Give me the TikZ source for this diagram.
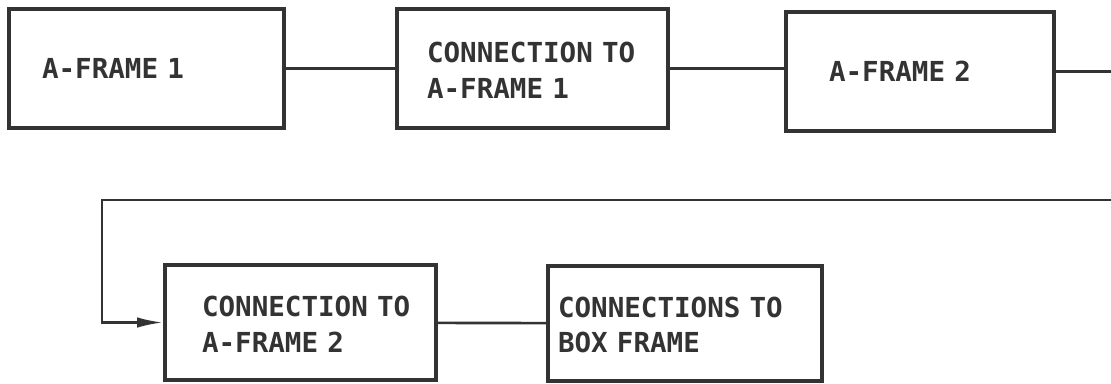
\documentclass[tikz,border=0pt]{standalone}
\usepackage{fontspec}
\usepackage{tikz}
\usetikzlibrary{arrows.meta, positioning}
\usepackage{xcolor}
\newfontfamily\monofont[WordSpace={1.1,0,0}]{DejaVu Sans Mono}
\definecolor{Ink}{HTML}{333333}

\begin{document}
\begin{tikzpicture}[
    unit/.style={draw=Ink, line width=2.6pt, align=left, inner ysep=0pt,
        font=\monofont\bfseries\fontsize{19.6}{25}\selectfont, text=Ink},
    link/.style={Ink, line width=1.9pt},
]
\useasboundingbox (0,0) rectangle (27.775,-9.575);

% =============================================
% TOP ROW
% =============================================
\node[unit, minimum height=2.975cm, inner xsep=0.825cm, text width=5.225cm]
    (af1) at (3.6625,-1.7125) {A-FRAME 1};
\node[unit, minimum height=2.975cm, inner xsep=0.75cm, text width=5.275cm]
    (con1) at (13.3125,-1.7125) {\rule{0pt}{0.6cm}CONNECTION~TO\\A-FRAME 1};
\node[unit, minimum height=2.975cm, inner xsep=1.075cm, text width=4.55cm]
    (af2) at (23.0,-1.7875) {A-FRAME 2};

\draw[link] (af1) -- (con1);
\draw[link] (con1.east) -- (con1.east -| af2.west);

% run-off to the right edge and back
\coordinate (outR) at (27.775,-1.825);
\coordinate (backR) at (27.775,-5.0);
\coordinate (turnL) at (2.55,-5.0);
\draw[link] (af2.east) -- (af2.east -| outR);

% =============================================
% BOTTOM ROW
% =============================================
\node[unit, minimum height=2.875cm, inner xsep=0.925cm, text width=4.925cm]
    (con2) at (7.5125,-8.0625) {\rule{0pt}{0.6cm}CONNECTION~TO\\A-FRAME 2};
\node[unit, minimum height=2.875cm, inner xsep=0.25cm, text width=6.35cm]
    (conbox) at (17.125,-8.0875) {\rule{0pt}{0.6cm}CONNECTIONS~TO\\BOX FRAME};

\draw[link, -{Latex[length=0.65cm, width=0.26cm]}] (backR) -- (turnL) |- (con2.west);
\draw[link] (con2) -- (conbox);

\end{tikzpicture}
\end{document}
